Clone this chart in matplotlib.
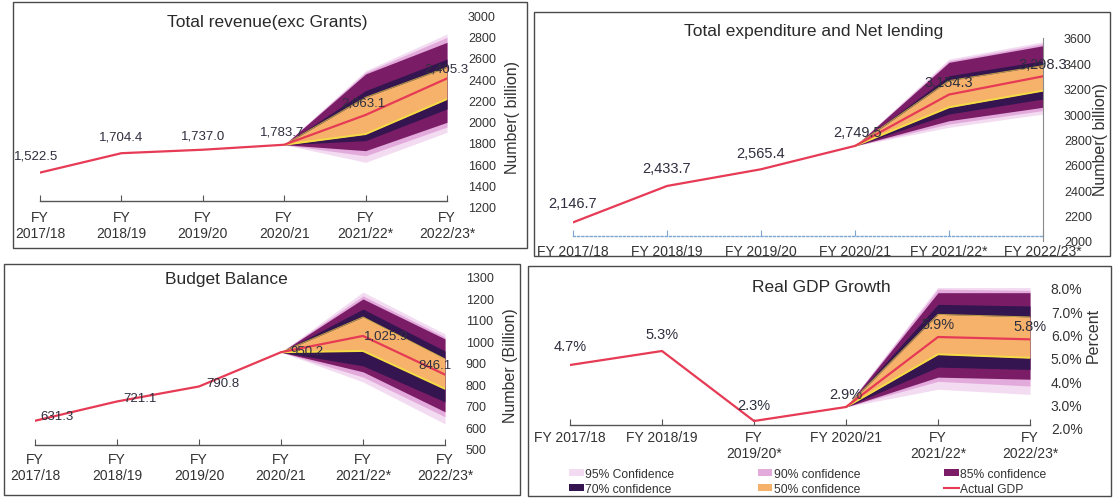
import matplotlib
matplotlib.use('Agg')
import matplotlib.pyplot as plt
from matplotlib.patches import Rectangle, Patch
from matplotlib.lines import Line2D

plt.rcParams['font.family'] = ['Liberation Sans', 'DejaVu Sans']

W, H = 1114, 502

# ---------------- data ----------------
years_two_line = ['FY\n2017/18', 'FY\n2018/19', 'FY\n2019/20', 'FY\n2020/21', 'FY\n2021/22*', 'FY\n2022/23*']
years_one_line = ['FY 2017/18', 'FY 2018/19', 'FY 2019/20', 'FY 2020/21', 'FY 2021/22*', 'FY 2022/23*']
years_gdp = ['FY 2017/18', 'FY 2018/19', 'FY\n2019/20*', 'FY 2020/21', 'FY\n2021/22*', 'FY\n2022/23*']

rev_values = [1522.5, 1704.4, 1737.0, 1783.7, 2063.1, 2405.3]
rev_text = ['1,522.5', '1,704.4', '1,737.0', '1,783.7', '2,063.1', '2,405.3']
rev_upper = {95: [2478, 2822], 90: [2462, 2791], 85: [2447, 2744], 70: [2291, 2587], 50: [2228, 2509]}
rev_lower = {95: [1619, 1900], 90: [1680, 1950], 85: [1728, 1994], 70: [1822, 2119], 50: [1884, 2212]}

exp_values = [2146.7, 2433.7, 2565.4, 2749.5, 3154.3, 3298.3]
exp_text = ['2,146.7', '2,433.7', '2,565.4', '2,749.5', '3,154.3', '3,298.3']
exp_upper = {95: [3434, 3571], 90: [3420, 3555], 85: [3408, 3539], 70: [3303, 3421], 50: [3264, 3382]}
exp_lower = {95: [2896, 3001], 90: [2922, 3028], 85: [2948, 3054], 70: [3001, 3119], 50: [3054, 3185]}

bal_values = [631.3, 721.1, 790.8, 950.2, 1025.9, 846.1]
bal_text = ['631.3', '721.1', '790.8', '950.2', '1,025.9', '846.1']
bal_upper = {95: [1230, 1035], 90: [1212, 1021], 85: [1198, 1012], 70: [1151, 956], 50: [1114, 919]}
bal_lower = {95: [812, 617], 90: [835, 650], 85: [859, 673], 70: [887, 719], 50: [956, 780]}

gdp_values = [4.7, 5.3, 2.3, 2.9, 5.9, 5.8]
gdp_text = ['4.7%', '5.3%', '2.3%', '2.9%', '5.9%', '5.8%']
gdp_upper = {95: [8.05, 8.04], 90: [7.95, 7.90], 85: [7.80, 7.80], 70: [7.30, 7.23], 50: [6.87, 6.76]}
gdp_lower = {95: [3.66, 3.44], 90: [4.00, 3.80], 85: [4.18, 4.09], 70: [4.61, 4.51], 50: [5.16, 5.01]}

levels = [95, 90, 85, 70, 50]
band_colors = {95: '#f3dbf1', 90: '#e3abdc', 85: '#7a1d66', 70: '#34154f', 50: '#f6b26b'}
legend_names = {95: '95% Confidence', 90: '90% confidence', 85: '85% confidence',
                70: '70% confidence', 50: '50% confidence'}
line_color = '#e63a55'
yellow = '#f5dc45'
txt = '#333333'

fig = plt.figure(figsize=(W / 100, H / 100), dpi=100)
fig.patch.set_facecolor('white')


def ax_px(x0, x1, ytop, ybot):
    return fig.add_axes([x0 / W, 1 - ybot / H, (x1 - x0) / W, (ybot - ytop) / H])


def box(x0, y0, x1, y1):
    fig.patches.append(Rectangle((x0 / W, 1 - y1 / H), (x1 - x0) / W, (y1 - y0) / H,
                                 transform=fig.transFigure, fill=False,
                                 edgecolor='#4a4a4a', lw=1.0))


def panel(ax, values, upper, lower, ylim, yticks, ytick_fmt, xlabels, texts, offsets,
          label_size, ytick_size, spine_frac, axis_style='solid', axis_color='#555555',
          right_spine=False, xpad=5):
    x = list(range(len(values)))
    fx = [3, 4, 5]
    for lv in levels:
        up = [values[3]] + upper[lv]
        lo = [values[3]] + lower[lv]
        ax.fill_between(fx, lo, up, color=band_colors[lv], lw=0, zorder=1)
    lo50 = [values[3]] + lower[50]
    up50 = [values[3]] + upper[50]
    ax.plot(fx, lo50, color=yellow, lw=1.4, zorder=2)
    ax.plot(fx, up50, color=yellow, lw=0.7, alpha=0.7, zorder=2)
    ax.plot(x, values, color=line_color, lw=1.6, zorder=3)
    for i, (v, t, (dx, dy)) in enumerate(zip(values, texts, offsets)):
        ax.annotate(t, (i, v), xytext=(dx, dy), textcoords='offset pixels',
                    ha='center', va='center', fontsize=label_size, color='#2e2e3e', zorder=4)
    ax.set_xlim(0, 5)
    ax.set_ylim(*ylim)
    ax.set_xticks(x)
    ax.set_xticklabels(xlabels, linespacing=0.85)
    ax.set_yticks(yticks)
    ax.set_yticklabels([ytick_fmt(v) for v in yticks])
    ax.yaxis.tick_right()
    ax.tick_params(axis='y', length=0, pad=15, labelsize=ytick_size, colors=txt)
    ax.tick_params(axis='x', direction='in', length=4, width=0.8, pad=xpad,
                   labelsize=10, colors=txt)
    for s in ['top', 'left']:
        ax.spines[s].set_visible(False)
    ax.spines['right'].set_visible(right_spine)
    if right_spine:
        ax.spines['right'].set_color('#8a8a8a')
        ax.spines['right'].set_linewidth(0.8)
    ax.spines['bottom'].set_position(('axes', spine_frac))
    ax.spines['bottom'].set_color(axis_color)
    ax.spines['bottom'].set_linestyle(axis_style)
    ax.spines['bottom'].set_linewidth(1.0)
    ax.tick_params(axis='x', color=axis_color)
    ax.patch.set_alpha(0)


# panel boxes
box(13, 3, 527, 249)
box(534, 13, 1110, 257)
box(4, 265, 520, 496)
box(528, 267, 1111, 497)

# ---------- Total revenue ----------
ax1 = ax_px(40, 447, 16, 208)
panel(ax1, rev_values, rev_upper, rev_lower, (1200, 3000), list(range(1200, 3001, 200)),
      lambda v: f'{v}', years_two_line, rev_text,
      [(-4, 17), (0, 17), (0, 14), (-2, 13), (-2, 12), (-1, 10)],
      9.5, 9, 0.03, xpad=6)
fig.text(267 / W, 1 - 23 / H, 'Total revenue(exc Grants)', ha='center', va='center',
         fontsize=12.5, color='#2a2a2a')
fig.text(512 / W, 1 - 118 / H, 'Number( billion)', rotation=90, ha='center', va='center',
         fontsize=11.5, color=txt)

# ---------- Total expenditure ----------
ax2 = ax_px(573, 1043, 39, 242)
panel(ax2, exp_values, exp_upper, exp_lower, (2000, 3600), list(range(2000, 3601, 200)),
      lambda v: f'{v}', years_one_line, exp_text,
      [(0, 19), (0, 18), (0, 16), (3, 14), (0, 13), (0, 12)],
      10.5, 9, 0.025, axis_style=(0, (1.5, 1.5)), axis_color='#7fa6d0', right_spine=True,
      xpad=6)
fig.text(814 / W, 1 - 32 / H, 'Total expenditure and Net lending', ha='center', va='center',
         fontsize=12.5, color='#2a2a2a')
fig.text(1100 / W, 1 - 140 / H, 'Number( billion)', rotation=90, ha='center', va='center',
         fontsize=11.5, color=txt)

# ---------- Budget balance ----------
ax3 = ax_px(35, 445, 278, 450)
panel(ax3, bal_values, bal_upper, bal_lower, (500, 1300), list(range(500, 1301, 100)),
      lambda v: f'{v}', years_two_line, bal_text,
      [(22, 5), (23, 3), (24, 3), (26, 1), (23, 0), (-10, 10)],
      9.5, 9, 0.025, xpad=5)
fig.text(226 / W, 1 - 280 / H, 'Budget Balance', ha='center', va='center',
         fontsize=12.5, color='#2a2a2a')
fig.text(510 / W, 1 - 366 / H, 'Number (Billion)', rotation=90, ha='center', va='center',
         fontsize=11.5, color=txt)

# ---------- Real GDP growth ----------
ax4 = ax_px(570, 1030, 289, 429)
panel(ax4, gdp_values, gdp_upper, gdp_lower, (2, 8), [2, 3, 4, 5, 6, 7, 8],
      lambda v: f'{v:.1f}%', years_gdp, gdp_text,
      [(0, 19), (0, 17), (0, 16), (0, 13), (0, 13), (0, 13)],
      10.5, 10, 0.025, xpad=4)
fig.text(821 / W, 1 - 287 / H, 'Real GDP Growth', ha='center', va='center',
         fontsize=12.5, color='#2a2a2a')
fig.text(1093 / W, 1 - 335 / H, 'Percent', rotation=90, ha='center', va='center',
         fontsize=11.5, color=txt)

handles = {lv: Patch(facecolor=band_colors[lv], edgecolor='none') for lv in levels}
leg_handles = [handles[95], handles[70], handles[90], handles[50], handles[85],
               Line2D([0], [0], color=line_color, lw=1.5)]
leg_labels = [legend_names[95], legend_names[70], legend_names[90], legend_names[50],
              legend_names[85], 'Actual GDP']
fig.legend(leg_handles, leg_labels, ncol=3, loc='upper left',
           bbox_to_anchor=(569 / W, 1 - 469 / H), frameon=False, fontsize=8.7,
           handlelength=1.2, handleheight=0.55, handletextpad=0.15, columnspacing=6.9,
           labelspacing=0.25, borderpad=0, borderaxespad=0, labelcolor=txt)

fig.savefig('out.png', dpi=100, facecolor='white')
